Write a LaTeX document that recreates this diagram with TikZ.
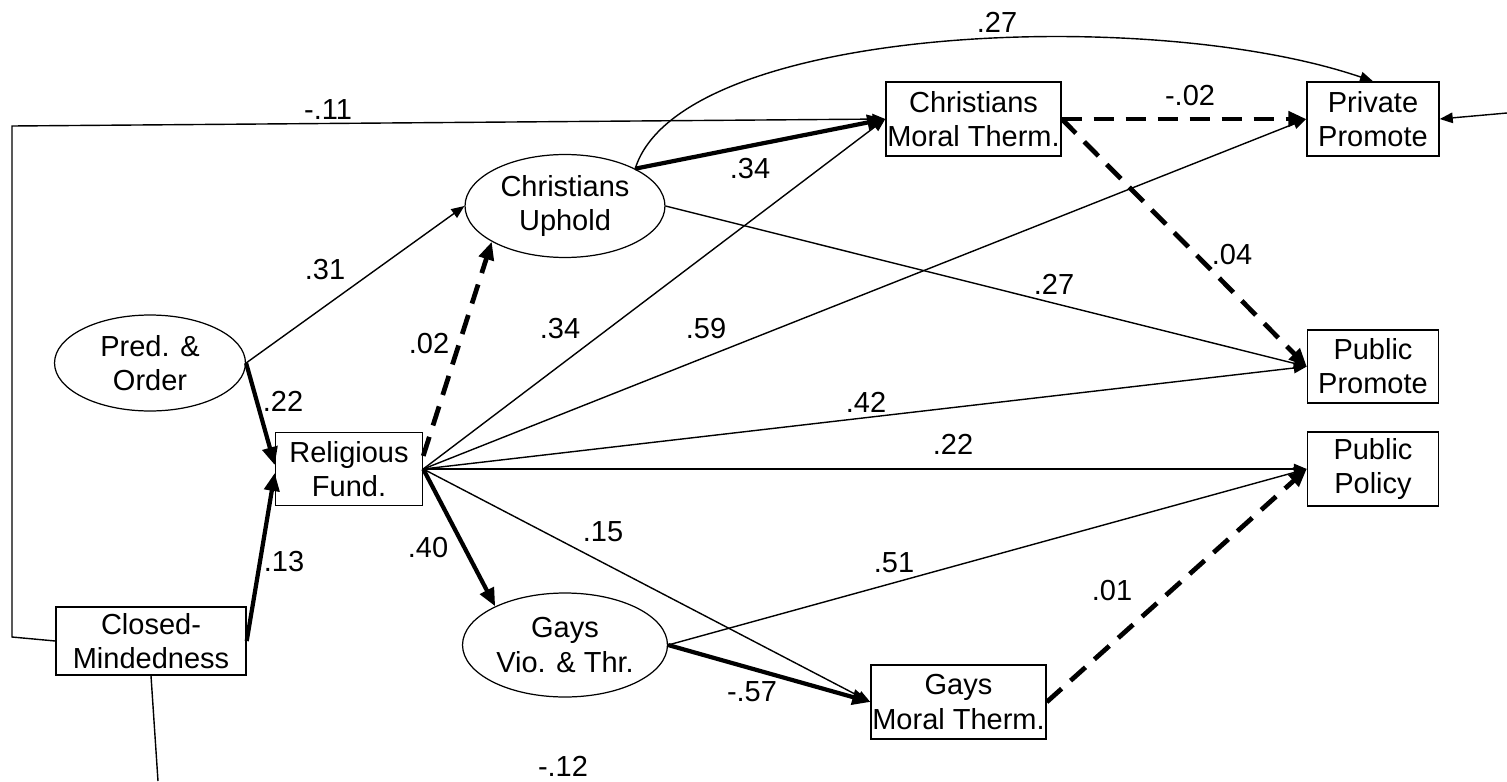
\documentclass[tikz,border=0pt]{standalone}
\usepackage{fontspec}
\setmainfont{Liberation Sans}
\usepackage{tikz}
\usetikzlibrary{arrows.meta,shapes.geometric}
\newcommand{\diagramFont}{\fontsize{16.5}{19.4}\selectfont}
\tikzstyle{pathDiagram} = [x = 0.02cm, y = -0.02cm]
\tikzstyle{observedBox} = [draw, rectangle, line width=.85pt, inner sep=0, align=center, font=\diagramFont]
\tikzstyle{latentEllipse} = [draw, ellipse, line width=.7pt, inner sep=0, align=center, font=\diagramFont]
\tikzstyle{thinPath} = [line width=.8pt, -{Triangle[length=.26cm, width=.21cm]}]
\tikzstyle{thickPath} = [line width=2.4pt, -{Triangle[length=.36cm, width=.3cm]}]
\tikzstyle{dashedPath} = [thickPath, line width=2.7pt, dash pattern=on .4cm off .24cm]
\tikzstyle{plainLine} = [line width=.8pt]
\tikzstyle{coefficientText} = [font=\diagramFont, inner sep=0]
\newcommand{\coefficient}[3]{\node [coefficientText] (#1) at (#2) {#3};}
\newcommand{\thinLink}[2]{\draw [thinPath] (#1) -- (#2);}
\newcommand{\thickLink}[2]{\draw [thickPath] (#1) -- (#2);}
\newcommand{\dashedLink}[2]{\draw [dashedPath] (#1) -- (#2);}

\begin{document}
\begin{tikzpicture}[pathDiagram]
            \useasboundingbox (0,0) rectangle (1507,781);

            \node [latentEllipse, minimum width=3.82cm, minimum height=1.92cm] (predOrder) at (150,363) {Pred. \&\\Order};
            \node [observedBox, minimum width=3.8cm, minimum height=1.36cm] (closedMind) at (151,641) {Closed-\\Mindedness};
            \node [observedBox, minimum width=2.94cm, minimum height=1.46cm] (relFund) at (349,469) {Religious\\Fund.};
            \node [latentEllipse, minimum width=4cm, minimum height=2.06cm] (chrUphold) at (565,206) {Christians\\Uphold};
            \node [latentEllipse, minimum width=4.1cm, minimum height=2.08cm] (gaysViolence) at (565,645) {Gays\\Vio. \& Thr.};
            \node [observedBox, minimum width=3.5cm, minimum height=1.48cm] (chrTherm) at (973.5,119) {Christians\\Moral Therm.};
            \node [observedBox, minimum width=3.5cm, minimum height=1.48cm] (gaysTherm) at (958.5,702) {Gays\\Moral Therm.};
            \node [observedBox, minimum width=2.64cm, minimum height=1.48cm] (privPromote) at (1373,119) {Private\\Promote};
            \node [observedBox, minimum width=2.62cm, minimum height=1.46cm] (pubPromote) at (1373,366.5) {Public\\Promote};
            \node [observedBox, minimum width=2.62cm, minimum height=1.48cm] (pubPolicy) at (1373,469) {Public\\Policy};

            \coordinate (leftBendLow) at (12,637);
            \coordinate (leftBendHigh) at (12,126);
            \coordinate (mindTail) at (158,781);
            \coordinate (privTail) at (1507,113);

            \thinLink{predOrder.east}{chrUphold.west}
            \thickLink{predOrder.east}{relFund.177}
            \thickLink{closedMind.east}{relFund.183}
            \draw [thinPath] (closedMind.west) -- (leftBendLow) -- (leftBendHigh) -- (chrTherm.west);
            \draw [plainLine] (closedMind.south) -- (mindTail);
            \dashedLink{relFund.10}{chrUphold.206}
            \thinLink{relFund.east}{chrTherm.west}
            \thinLink{relFund.east}{privPromote.west}
            \thinLink{relFund.east}{pubPromote.west}
            \thinLink{relFund.east}{pubPolicy.west}
            \thinLink{relFund.east}{gaysTherm.west}
            \thickLink{relFund.east}{gaysViolence.151}
            \thickLink{chrUphold.28}{chrTherm.west}
            \thinLink{chrUphold.east}{pubPromote.west}
            \draw [thinPath] (chrUphold.28) .. controls (680,25) and (1150,5) .. (privPromote.north);
            \dashedLink{chrTherm.east}{privPromote.west}
            \dashedLink{chrTherm.east}{pubPromote.west}
            \thinLink{privTail}{privPromote.east}
            \thickLink{gaysViolence.east}{gaysTherm.west}
            \thinLink{gaysViolence.east}{pubPolicy.west}
            \dashedLink{gaysTherm.east}{pubPolicy.west}

            \coefficient{cMindChr}{328,110}{-.11}
            \coefficient{cPredUphold}{325,270}{.31}
            \coefficient{cPredFund}{283,401}{.22}
            \coefficient{cMindFund}{284,562}{.13}
            \coefficient{cFundUphold}{429,344}{.02}
            \coefficient{cFundViolence}{428,548}{.40}
            \coefficient{cUpholdTherm}{750,169}{.34}
            \coefficient{cUpholdPriv}{997,22}{.27}
            \coefficient{cThermPriv}{1190,96}{-.02}
            \coefficient{cThermPub}{1232,255}{.04}
            \coefficient{cUpholdPub}{1054,284}{.27}
            \coefficient{cFundTherm}{560,329}{.34}
            \coefficient{cFundPriv}{706,329}{.59}
            \coefficient{cFundPub}{866,402}{.42}
            \coefficient{cFundPolicy}{953,444}{.22}
            \coefficient{cFundGays}{603,532}{.15}
            \coefficient{cViolencePolicy}{894,563}{.51}
            \coefficient{cViolenceGays}{752,692}{-.57}
            \coefficient{cGaysPolicy}{1112,591}{.01}
            \coefficient{cMindTail}{563,766}{-.12}
          \end{tikzpicture}
\end{document}
